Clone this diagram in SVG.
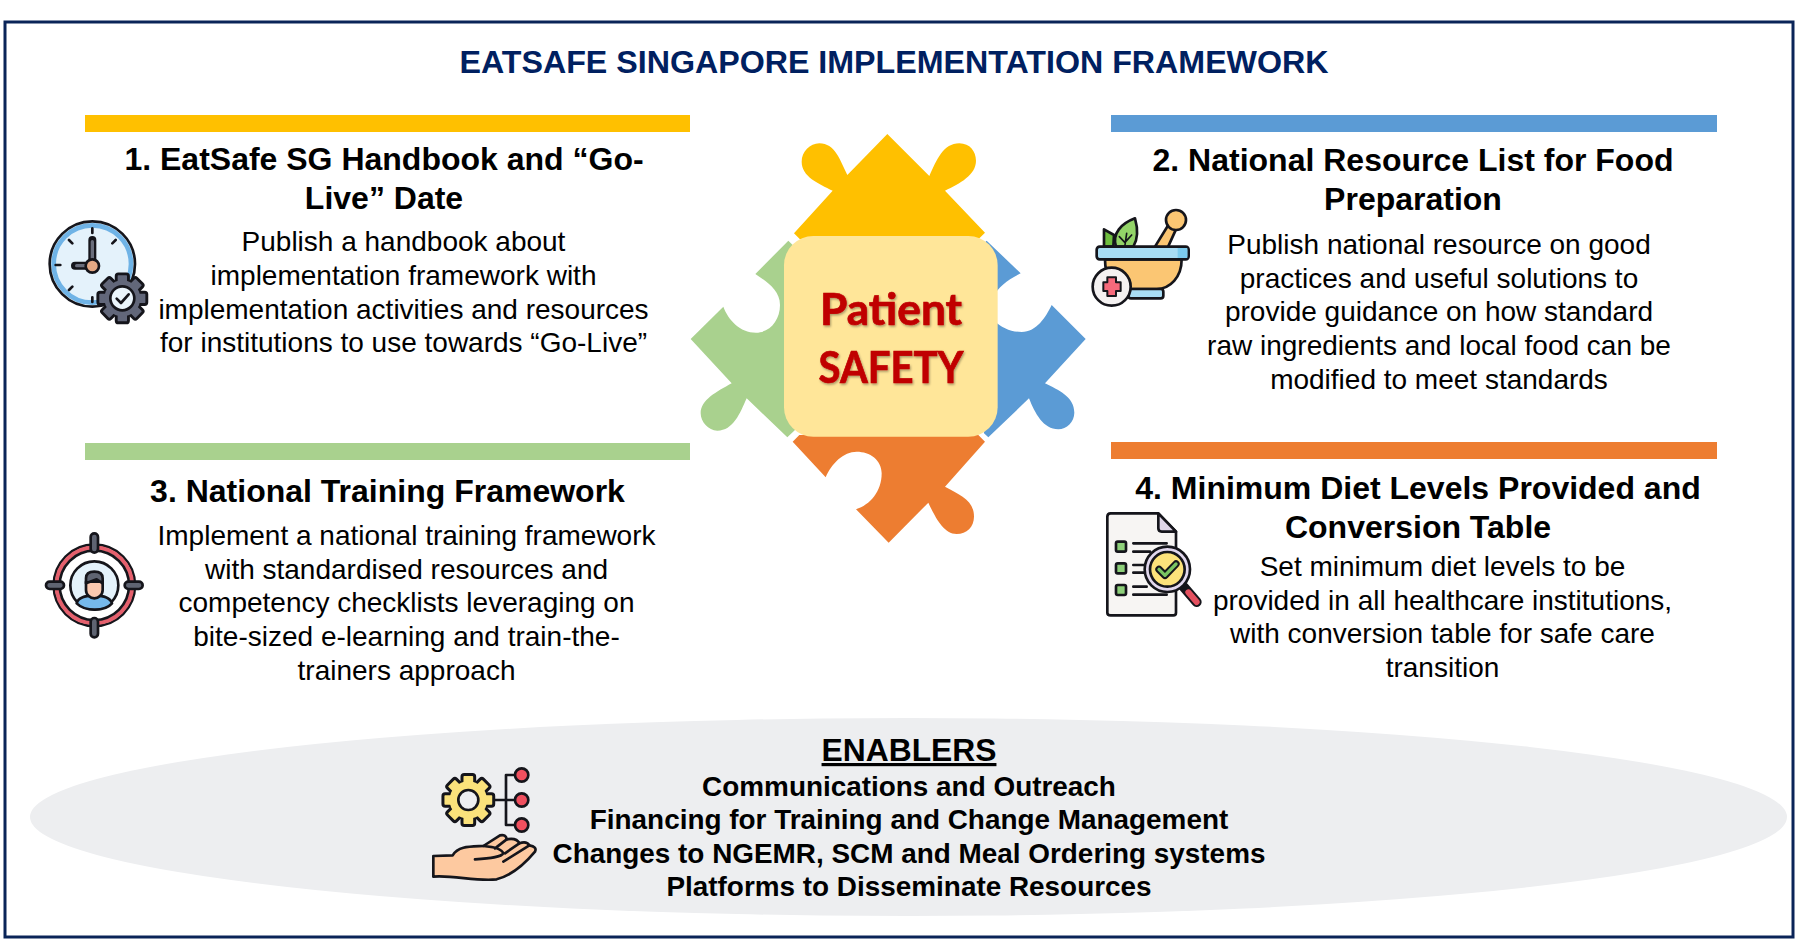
<svg xmlns="http://www.w3.org/2000/svg" xmlns:xlink="http://www.w3.org/1999/xlink" width="1800" height="943" viewBox="0 0 1800 943">
<style>
text{font-family:"Liberation Sans",Arial,sans-serif;text-anchor:middle;fill:#000}
.h{font-weight:700;font-size:32px}
.b{font-size:28px}
.e{font-weight:700;font-size:27.9px}
.c{font-family:Lato,"Liberation Sans",sans-serif;font-size:44px;font-weight:700;fill:#C00000;stroke:#C00000;stroke-width:.7}
.k{stroke:#15151b;stroke-width:8;stroke-linecap:round;stroke-linejoin:round}
.n{fill:none}
</style>
<defs>
<filter id="sh" x="-10%" y="-10%" width="120%" height="130%"><feDropShadow dx="1" dy="1.5" stdDeviation="1.2" flood-color="#000" flood-opacity=".35"/></filter>
<g id="gear">
<circle r="50" fill="currentColor" class="k"/>
<g fill="currentColor" class="k">
<rect x="-17" y="-68" width="34" height="136" rx="6"/>
<rect x="-17" y="-68" width="34" height="136" rx="6" transform="rotate(45)"/>
<rect x="-17" y="-68" width="34" height="136" rx="6" transform="rotate(90)"/>
<rect x="-17" y="-68" width="34" height="136" rx="6" transform="rotate(135)"/>
</g>
<circle r="50" fill="currentColor"/>
</g>
</defs>
<rect width="1800" height="943" fill="#fff"/>
<rect x="5" y="22" width="1788" height="915" fill="none" stroke="#0a2458" stroke-width="3"/>
<text x="894" y="73" font-size="32.2" font-weight="700" style="fill:#002060">EATSAFE SINGAPORE IMPLEMENTATION FRAMEWORK</text>

<g id="puzzle" transform="translate(680 120) scale(.33333)">
<path fill="#5B9BD5" d="M920 362L1022 460C985 478 955 500 940 530L940 600C965 625 995 636 1025 636C1070 636 1098 590 1115 555L1217 657L1095 790C1135 810 1183 830 1183 878C1183 905 1160 928 1135 928C1090 928 1065 880 1047 835L925 952L912 940L880 400Z"/>
<path fill="#A9D18E" d="M325 362L345 382L345 930L322 952L200 835C180 880 160 932 112 932C85 932 62 905 62 880C62 840 110 815 155 790L32 657L130 560C145 600 180 638 228 638C270 638 300 600 300 555C300 510 260 485 226 462Z"/>
<path fill="#FFC000" d="M622 42L748 168C770 120 790 70 838 70C870 70 888 95 888 122C888 165 840 190 795 212L915 338L895 358L360 358L342 340L458 212C415 190 365 170 365 125C365 95 390 70 418 70C465 70 480 120 502 165Z"/>
<path fill="#ED7D31" d="M338 965L358 945L895 945L915 965L795 1100C840 1125 882 1140 882 1190C882 1220 860 1242 830 1242C790 1242 765 1190 745 1148L626 1268L528 1168C570 1155 605 1115 605 1060C605 1020 570 995 530 995C490 995 455 1030 437 1072Z"/>
<rect x="312" y="348" width="641" height="602" rx="88" fill="#FFE699"/>
</g>
<g id="center-label" filter="url(#sh)">
<text class="c" x="891" y="325" textLength="142" lengthAdjust="spacingAndGlyphs">Patient</text>
<text class="c" x="891" y="383" textLength="145" lengthAdjust="spacingAndGlyphs">SAFETY</text>
</g>

<g id="item1">
<rect x="85" y="115" width="605" height="17" fill="#FFC000"/>
<text class="h" x="384" y="170">1. EatSafe SG Handbook and “Go-</text>
<text class="h" x="384" y="209">Live” Date</text>
<text class="b" x="403.5" y="251">Publish a handbook about</text>
<text class="b" x="403.5" y="285">implementation framework with</text>
<text class="b" x="403.5" y="319">implementation activities and resources</text>
<text class="b" x="403.5" y="352">for institutions to use towards “Go-Live”</text>
<g transform="translate(30 200) scale(.33333)">
<circle cx="187" cy="192" r="128" fill="#E4F2FB"/>
<circle cx="187" cy="192" r="116" fill="none" stroke="#6FB3E6" stroke-width="14"/>
<circle cx="187" cy="192" r="128" class="k n"/>
<path class="k n" d="M187 85v14M187 292v14M77 195h14M117 120l10 10M257 120l-10 10M117 270l10-10"/>
<path d="M187 120V195M135 197H187" fill="none" stroke="#15151b" stroke-width="24" stroke-linecap="round"/>
<path d="M187 125V195M140 197H187" fill="none" stroke="#6A6E7C" stroke-width="10" stroke-linecap="round"/>
<circle cx="187" cy="198" r="20" fill="#E3A884" class="k"/>
<use xlink:href="#gear" href="#gear" transform="translate(277 295) scale(1.08)" color="#62677A"/>
<circle cx="277" cy="295" r="36" fill="#EAF4FB" class="k"/>
<path class="k n" d="M260 296l13 13l23-26"/>
</g>
</g>

<g id="item2">
<rect x="1111" y="115" width="606" height="17" fill="#5B9BD5"/>
<text class="h" x="1413" y="171">2. National Resource List for Food</text>
<text class="h" x="1413" y="210">Preparation</text>
<text class="b" x="1439" y="254">Publish national resource on good</text>
<text class="b" x="1439" y="288">practices and useful solutions to</text>
<text class="b" x="1439" y="321">provide guidance on how standard</text>
<text class="b" x="1439" y="355">raw ingredients and local food can be</text>
<text class="b" x="1439" y="389">modified to meet standards</text>
<g transform="translate(1080 190) scale(.33333)">
<path d="M225 170L265 105L288 118L262 175Z" fill="#FBC673" class="k"/>
<circle cx="288" cy="90" r="30" fill="#FBC673" class="k"/>
<path d="M72 170L72 118L102 135L100 170Z" fill="#6FBE3F" class="k"/>
<path d="M108 170C95 130 125 100 165 85C175 120 172 150 160 170Z" fill="#93D468" class="k"/>
<path class="k n" d="M135 165L140 130M118 140L135 158M155 135L137 155" style="stroke-width:5"/>
<path d="M75 208H305C305 262 270 297 230 297H135C100 297 75 262 75 208Z" fill="#FBC673" class="k"/>
<rect x="145" y="297" width="105" height="28" rx="8" fill="#A8DDF5" class="k"/>
<rect x="50" y="170" width="276" height="38" rx="9" fill="#A8DDF5" class="k"/>
<rect x="293" y="174" width="29" height="30" fill="#7CCBEE"/>
<circle cx="95" cy="290" r="57" fill="#F4F1F1" class="k"/>
<path d="M82 262H108V277H122V303H108V318H82V303H70V277H82Z" fill="#F5697B" class="k" style="stroke-width:6"/>
</g>
</g>

<g id="item3">
<rect x="85" y="443" width="605" height="17" fill="#A9D18E"/>
<text class="h" x="387.5" y="502">3. National Training Framework</text>
<text class="b" x="406.5" y="545">Implement a national training framework</text>
<text class="b" x="406.5" y="579">with standardised resources and</text>
<text class="b" x="406.5" y="612">competency checklists leveraging on</text>
<text class="b" x="406.5" y="646">bite-sized e-learning and train-the-</text>
<text class="b" x="406.5" y="680">trainers approach</text>
<g transform="translate(30 520) scale(.33333)">
<circle cx="193" cy="196" r="122" fill="#fff" class="k"/>
<circle cx="193" cy="196" r="113" fill="none" stroke="#E5606D" stroke-width="13"/>
<circle cx="193" cy="196" r="104" fill="#fff" class="k"/>
<circle cx="193" cy="196" r="72" fill="#E4F2FB" class="k"/>
<path d="M140 250C145 230 170 228 193 225C216 228 240 230 246 250C225 275 165 275 140 250Z" fill="#76B9EB" class="k"/>
<path d="M168 185H218V210C218 225 205 235 193 235C181 235 168 225 168 210Z" fill="#FBC9B0" class="k"/>
<path d="M168 190V175C168 160 180 155 193 155C208 155 218 162 218 175V190L200 178L168 190Z" fill="#5F6472" class="k"/>
<rect x="182" y="40" width="22" height="58" rx="11" fill="#5F6472" class="k"/>
<rect x="182" y="294" width="22" height="58" rx="11" fill="#5F6472" class="k"/>
<rect x="48" y="185" width="54" height="22" rx="11" fill="#5F6472" class="k"/>
<rect x="284" y="185" width="54" height="22" rx="11" fill="#5F6472" class="k"/>
</g>
</g>

<g id="item4">
<rect x="1111" y="442" width="606" height="17" fill="#ED7D31"/>
<text class="h" x="1418" y="499">4. Minimum Diet Levels Provided and</text>
<text class="h" x="1418" y="538">Conversion Table</text>
<text class="b" x="1442.5" y="576">Set minimum diet levels to be</text>
<text class="b" x="1442.5" y="610">provided in all healthcare institutions,</text>
<text class="b" x="1442.5" y="643">with conversion table for safe care</text>
<text class="b" x="1442.5" y="677">transition</text>
<g transform="translate(1090 500) scale(.33333)">
<path d="M62 40H205L258 95V338Q258 346 250 346H62Q52 346 52 338V50Q52 40 62 40Z" fill="#F7F5F3" class="k"/>
<path d="M205 40V85Q205 95 215 95H258Z" fill="#DFD5E8" class="k"/>
<rect x="78" y="125" width="30" height="30" rx="5" fill="#8ED07A" class="k"/>
<rect x="78" y="190" width="30" height="30" rx="5" fill="#8ED07A" class="k"/>
<rect x="78" y="255" width="30" height="30" rx="5" fill="#8ED07A" class="k"/>
<path class="k n" d="M130 130H230M130 155H180M130 195H170M130 218H170M130 260H170M130 284H230"/>
<path d="M282 262L320 306" stroke="#15151b" stroke-width="30" stroke-linecap="round"/>
<path d="M295 277L320 306" stroke="#E4505F" stroke-width="18" stroke-linecap="round"/>
<circle cx="232" cy="208" r="68" fill="#E2D8EE" class="k"/>
<circle cx="232" cy="208" r="52" fill="#FCE27B" class="k"/>
<path d="M207 208L225 226L258 192" fill="none" stroke="#15151b" stroke-width="22" stroke-linecap="round" stroke-linejoin="round"/>
<path d="M207 208L225 226L258 192" fill="none" stroke="#7AC462" stroke-width="10" stroke-linecap="round" stroke-linejoin="round"/>
</g>
</g>

<g id="enablers">
<ellipse cx="908.5" cy="817" rx="878.5" ry="99" fill="#EDEEF0"/>
<text x="909" y="761" font-size="31.8" font-weight="700" style="text-decoration:underline">ENABLERS</text>
<text class="e" x="909" y="796">Communications and Outreach</text>
<text class="e" x="909" y="829">Financing for Training and Change Management</text>
<text class="e" x="909" y="863">Changes to NGEMR, SCM and Meal Ordering systems</text>
<text class="e" x="909" y="896">Platforms to Disseminate Resources</text>
<g transform="translate(420 750) scale(.33333)">
<path class="k n" d="M222 150H305M258 225V75H305M258 225H305"/>
<circle cx="305" cy="75" r="20" fill="#F0505F" class="k"/>
<circle cx="305" cy="150" r="20" fill="#F0505F" class="k"/>
<circle cx="305" cy="225" r="20" fill="#F0505F" class="k"/>
<use xlink:href="#gear" href="#gear" transform="translate(145 150) scale(1.12)" color="#FBE27B"/>
<circle cx="145" cy="150" r="30" fill="#EDEEF0" class="k"/>
<path d="M40 318L98 316C115 288 150 290 190 288L240 256Q258 252 260 268Q290 262 298 280Q320 272 328 286Q352 290 345 305C320 335 280 375 230 388C170 395 100 375 40 380Z" fill="#FDC9A0" class="k"/>
<path class="k n" d="M190 288C215 290 245 295 250 310C245 322 210 325 165 328M260 268L225 295M298 280L255 310M328 286L250 335"/>
</g>
</g>
</svg>
